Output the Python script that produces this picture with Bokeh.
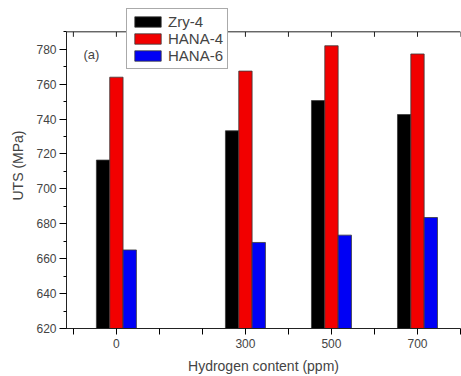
import math
from bokeh.plotting import figure
from bokeh.models import (Range1d, FixedTicker, SingleIntervalTicker, LinearAxis,
                          Legend, LegendItem, Label, ColumnDataSource, Span)
from bokeh.embed import file_html
from bokeh.resources import INLINE

# Data
hydrogen = [0, 300, 500, 700]
zry4 = [716.5, 733.3, 750.6, 742.6]
hana4 = [764.0, 767.5, 782.0, 777.3]
hana6 = [665.0, 669.3, 673.5, 683.6]
series_names = ["Zry-4", "HANA-4", "HANA-6"]
x_tick_positions = [-100, 0, 100, 200, 300, 400, 500, 600, 700, 800]
x_tick_labels = ["0", "300", "500", "700"]
y_min, y_max = 620, 790

FONT = "Liberation Sans"
bar_w = 31
offsets = [-31, 0, 31]
colors = ["#000000", "#f20000", "#0000f5"]

p = figure(width=461, height=376, output_backend="svg", toolbar_location=None,
           x_range=Range1d(-116, 800), y_range=Range1d(620, 806.8),
           min_border_left=66, min_border_right=1, min_border_top=2, min_border_bottom=46,
           x_axis_type=None, y_axis_type=None)
p.outline_line_color = None
p.xgrid.visible = False
p.ygrid.visible = False

renderers = []
for vals, off, col in zip([zry4, hana4, hana6], offsets, colors):
    src = ColumnDataSource(dict(x=[h + off for h in hydrogen], top=vals))
    r = p.vbar(x="x", top="top", bottom=y_min, width=bar_w, source=src,
               fill_color=col, line_color="#3a3a3a", line_width=0.8)
    renderers.append(r)

# bottom axis
overrides = {t: "" for t in x_tick_positions}
for t, lab in zip(hydrogen, x_tick_labels):
    overrides[t] = lab
xa = LinearAxis(ticker=FixedTicker(ticks=x_tick_positions),
                major_label_overrides=overrides,
                axis_label="Hydrogen content (ppm)")
xa.major_tick_in = 0
xa.major_tick_out = 6
xa.minor_tick_out = 0
xa.major_label_standoff = 4
xa.axis_label_standoff = 7
xa.axis_label_text_font = FONT
xa.axis_label_text_font_size = "14px"
xa.axis_label_text_font_style = "normal"
xa.major_label_text_font = FONT
xa.major_label_text_font_size = "12px"
xa.axis_line_color = "#222222"
p.add_layout(xa, "below")

# top frame line with inward ticks
p.add_layout(Span(location=y_max, dimension="width", line_color="#222222", line_width=1))
p.ray(x=x_tick_positions, y=[y_max] * len(x_tick_positions), length=5,
      length_units="screen", angle=-math.pi / 2, line_color="#222222", line_width=1)

# left axis
ya = LinearAxis(ticker=SingleIntervalTicker(interval=20, num_minor_ticks=2),
                axis_label="UTS (MPa)", bounds=(y_min, y_max))
ya.major_tick_in = 0
ya.major_tick_out = 7
ya.minor_tick_in = 0
ya.minor_tick_out = 3
ya.major_label_standoff = 3
ya.axis_label_standoff = 7
ya.axis_label_text_font = FONT
ya.axis_label_text_font_size = "14px"
ya.axis_label_text_font_style = "normal"
ya.major_label_text_font = FONT
ya.major_label_text_font_size = "12px"
ya.axis_line_color = "#222222"
p.add_layout(ya, "left")

legend = Legend(items=[LegendItem(label=n, renderers=[r]) for n, r in zip(series_names, renderers)],
                location=(60, 259), orientation="vertical")
legend.glyph_width = 33
legend.glyph_height = 13
legend.label_height = 13
legend.label_standoff = 4
legend.spacing = 0
legend.padding = 4
legend.margin = 0
legend.label_text_font = FONT
legend.label_text_font_size = "15px"
legend.label_text_baseline = "middle"
legend.border_line_color = "#555555"
legend.border_line_width = 1
legend.background_fill_alpha = 1
p.add_layout(legend, "center")

p.add_layout(Label(x=17, y=274, x_units="screen", y_units="screen",
                   text="(a)", text_font=FONT, text_font_size="13px",
                   text_baseline="middle"))

open("out.html", "w").write(file_html(p, INLINE))
